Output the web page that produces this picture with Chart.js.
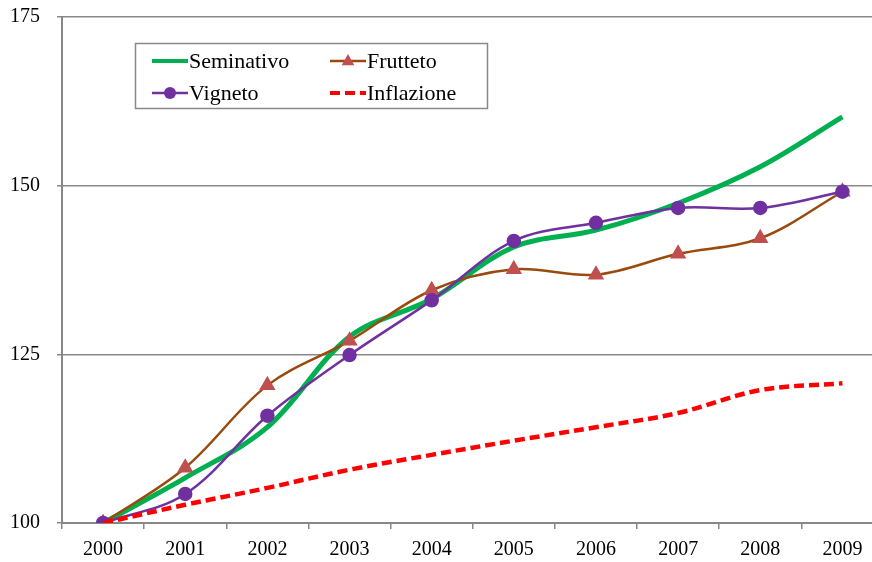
<!DOCTYPE html>
<html>
<head>
<meta charset="utf-8">
<script src="https://cdn.jsdelivr.net/npm/chart.js@4/dist/chart.umd.min.js"></script>
<style>
  html, body { margin: 0; padding: 0; background: #fff; overflow: hidden; }
  #wrap { width: 893px; height: 562px; }
</style>
</head>
<body>
<div id="wrap"><canvas id="chart-area" width="893" height="562"></canvas></div>
<script>
var years = ["2000","2001","2002","2003","2004","2005","2006","2007","2008","2009"];
var seminativo = [100, 106.7, 114.2, 127.6, 133.2, 140.9, 143.4, 147.4, 152.8, 160.2];
var frutteto   = [100, 108.2, 120.4, 127.0, 134.5, 137.6, 136.8, 139.9, 142.2, 149.1];
var vigneto    = [100, 104.3, 115.9, 124.9, 133.0, 141.8, 144.5, 146.7, 146.7, 149.1];
var inflazione = [100, 102.7, 105.2, 107.9, 110.1, 112.2, 114.2, 116.3, 119.7, 120.7];
var yTicks = [100, 125, 150, 175];

var serif = "'Liberation Serif', 'Times New Roman', serif";
var gridGray = "#888888";

// legend drawn inside the plot, two columns like the original
var boxLegend = {
    id: 'boxLegend',
    afterDraw: function(chart) {
        var ctx = chart.ctx;
        ctx.save();
        ctx.strokeStyle = gridGray;
        ctx.lineWidth = 1.5;
        ctx.strokeRect(135.5, 43.5, 352, 65);
        var cols = [152, 330], rows = [61, 93];
        chart.data.datasets.forEach(function(ds, i) {
            var x = cols[i % 2], y = rows[Math.floor(i / 2)];
            ctx.save();
            ctx.strokeStyle = ds.borderColor;
            ctx.lineWidth = Math.min(ds.borderWidth, 4);
            ctx.setLineDash(ds.borderDash || []);
            ctx.beginPath();
            ctx.moveTo(x, y);
            ctx.lineTo(x + 36, y);
            ctx.stroke();
            ctx.restore();
            if (ds.pointRadius > 0) {
                ctx.fillStyle = ds.pointBackgroundColor;
                ctx.beginPath();
                if (ds.pointStyle === 'triangle') {
                    var r = ds.pointRadius;
                    ctx.moveTo(x + 18, y - r);
                    ctx.lineTo(x + 18 + r * 0.9, y + r * 0.6);
                    ctx.lineTo(x + 18 - r * 0.9, y + r * 0.6);
                    ctx.closePath();
                } else {
                    ctx.arc(x + 18, y, ds.pointRadius, 0, Math.PI * 2);
                }
                ctx.fill();
            }
            ctx.fillStyle = "#000";
            ctx.font = "22px " + serif;
            ctx.textBaseline = "middle";
            ctx.textAlign = "left";
            ctx.fillText(ds.label, x + 37, y + 1);
        });
        ctx.restore();
    }
};

var config = {
    type: 'line',
    data: {
        labels: years,
        datasets: [
            {label: "Seminativo", data: seminativo, borderColor: "#00B050", borderWidth: 5,
             pointRadius: 0, tension: 0.35, order: 3},
            {label: "Frutteto", data: frutteto, borderColor: "#9A4A0C", borderWidth: 2.5,
             pointStyle: 'triangle', pointRadius: 7, pointBackgroundColor: "#C0504D",
             pointBorderColor: "#C0504D", tension: 0.35, order: 2},
            {label: "Vigneto", data: vigneto, borderColor: "#7030A0", borderWidth: 2.5,
             pointStyle: 'circle', pointRadius: 6, pointBackgroundColor: "#7030A0",
             pointBorderColor: "#7030A0", tension: 0.35, order: 1},
            {label: "Inflazione", data: inflazione, borderColor: "#FF0000", borderWidth: 4.5,
             borderDash: [10, 5], pointRadius: 0, tension: 0.35, order: 0}
        ]
    },
    options: {
        responsive: false,
        animation: false,
        devicePixelRatio: 1,
        layout: {padding: {top: 17, right: 2, left: 10, bottom: 0}},
        plugins: {legend: {display: false}, tooltip: {enabled: false}},
        scales: {
            x: {
                offset: true,
                grid: {offset: true, drawOnChartArea: false, color: gridGray, lineWidth: 1.5, tickLength: 6},
                border: {color: gridGray, width: 2},
                ticks: {color: "#000", font: {family: serif, size: 20}, padding: 9, maxRotation: 0},
                afterFit: function(scale) { scale.height = 39; }
            },
            y: {
                min: 100, max: 175,
                afterBuildTicks: function(scale) {
                    scale.ticks = yTicks.map(function(v) { return {value: v}; });
                },
                grid: {color: gridGray, lineWidth: 1.5, tickLength: 5},
                border: {color: gridGray, width: 2},
                ticks: {color: "#000", font: {family: serif, size: 20}, padding: 0, crossAlign: 'far'},
                afterFit: function(scale) { scale.width = 52; }
            }
        }
    },
    plugins: [boxLegend]
};

window.onload = function() {
    var ctx = document.getElementById("chart-area").getContext("2d");
    window.myLine = new Chart(ctx, config);
};
</script>
</body>
</html>
